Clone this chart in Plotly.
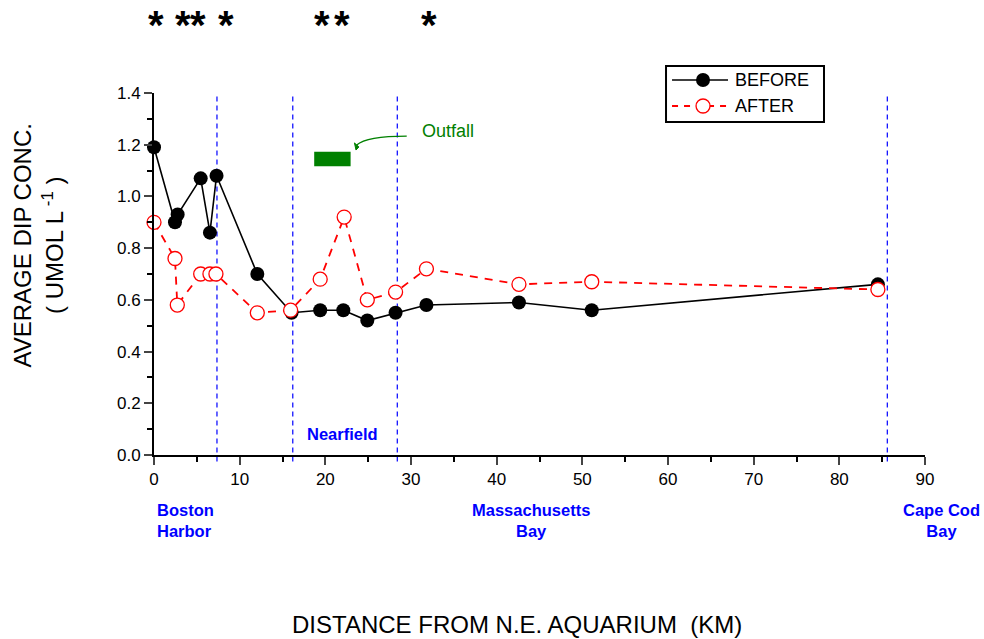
import plotly.graph_objects as go

# Station distances from the N.E. Aquarium (km) and mean DIP concentrations
before_km = [0.0, 2.45, 2.76, 5.45, 6.53, 7.3, 12.06, 16.06, 19.4, 22.1, 24.9, 28.2, 31.8, 42.6, 51.1, 84.5]
before_dip = [1.19, 0.90, 0.93, 1.07, 0.86, 1.08, 0.70, 0.55, 0.56, 0.56, 0.52, 0.55, 0.58, 0.59, 0.56, 0.66]

after_km = [0.0, 2.45, 2.72, 5.45, 6.53, 7.23, 12.06, 15.95, 19.4, 22.2, 24.9, 28.2, 31.8, 42.6, 51.1, 84.5]
after_dip = [0.90, 0.76, 0.58, 0.70, 0.70, 0.70, 0.55, 0.56, 0.68, 0.92, 0.60, 0.63, 0.72, 0.66, 0.67, 0.64]

# Region boundaries (km)
boundaries_km = [7.35, 16.2, 28.4, 85.6]

# Outfall location bar (km range, DIP range)
outfall_km = [18.7, 22.95]
outfall_dip = [1.117, 1.173]

# Significance markers (km)
star_km = [0.2, 3.4, 5.1, 8.4, 19.6, 21.9, 32.1]

x_ticks = [0, 10, 20, 30, 40, 50, 60, 70, 80, 90]
y_ticks = [0.0, 0.2, 0.4, 0.6, 0.8, 1.0, 1.2, 1.4]

FONT = "Liberation Sans, Arial, sans-serif"
BLUE = "#0000ff"
GREEN = "#008000"
RED = "#ff0000"

fig = go.Figure()

fig.add_trace(go.Scatter(
    x=before_km, y=before_dip, name="BEFORE", mode="lines+markers",
    line=dict(color="black", width=1.6),
    marker=dict(symbol="circle", size=14, color="black", line=dict(width=0)),
    cliponaxis=False, showlegend=False,
))
fig.add_trace(go.Scatter(
    x=after_km, y=after_dip, name="AFTER", mode="lines+markers",
    line=dict(color=RED, width=1.8, dash="8px,7px"),
    marker=dict(symbol="circle", size=14, color="white", line=dict(color=RED, width=1.3)),
    cliponaxis=False, showlegend=False,
))

shapes = []
for b in boundaries_km:
    shapes.append(dict(type="line", xref="x", yref="paper", x0=b, x1=b, y0=-0.018, y1=0.99,
                       line=dict(color=BLUE, width=1.2, dash="5px,4px"), layer="below"))

# Outfall bar with a curved pointer from its label
shapes.append(dict(type="rect", xref="x", yref="y", x0=outfall_km[0], x1=outfall_km[1],
                   y0=outfall_dip[0], y1=outfall_dip[1], fillcolor=GREEN, line=dict(width=0)))
shapes.append(dict(type="path", xref="x", yref="y",
                   path="M 29.5 1.2336 Q 24.8 1.2336 23.66 1.199",
                   line=dict(color=GREEN, width=1.2)))
shapes.append(dict(type="path", xref="x", yref="y",
                   path="M 23.58 1.1794 L 23.92 1.1914 L 23.40 1.2069 Z",
                   fillcolor=GREEN, line=dict(color=GREEN, width=1)))

# Legend box drawn in paper space
leg_x0, leg_x1, leg_y0, leg_y1 = 0.6641, 0.869, 0.9199, 1.0746
row_y = [1.0359, 0.9641]
sample_x0, sample_x1, marker_x, text_x = 0.6719, 0.7445, 0.7121, 0.751
shapes.append(dict(type="rect", xref="paper", yref="paper", x0=leg_x0, x1=leg_x1,
                   y0=leg_y0, y1=leg_y1, fillcolor="white", line=dict(color="black", width=2)))
shapes.append(dict(type="line", xref="paper", yref="paper", x0=sample_x0, x1=sample_x1,
                   y0=row_y[0], y1=row_y[0], line=dict(color="black", width=1.6)))
shapes.append(dict(type="circle", xref="paper", yref="paper", xsizemode="pixel", ysizemode="pixel",
                   xanchor=marker_x, yanchor=row_y[0], x0=-7, x1=7, y0=-7, y1=7,
                   fillcolor="black", line=dict(width=0)))
shapes.append(dict(type="line", xref="paper", yref="paper", x0=sample_x0, x1=sample_x1,
                   y0=row_y[1], y1=row_y[1], line=dict(color=RED, width=1.8, dash="6px,6px")))
shapes.append(dict(type="circle", xref="paper", yref="paper", xsizemode="pixel", ysizemode="pixel",
                   xanchor=marker_x, yanchor=row_y[1], x0=-7, x1=7, y0=-7, y1=7,
                   fillcolor="white", line=dict(color=RED, width=1.3)))

annotations = [
    dict(x=text_x, y=row_y[0], xref="paper", yref="paper", text="BEFORE", showarrow=False,
         xanchor="left", yanchor="middle", font=dict(family=FONT, size=18, color="black")),
    dict(x=text_x, y=row_y[1], xref="paper", yref="paper", text="AFTER", showarrow=False,
         xanchor="left", yanchor="middle", font=dict(family=FONT, size=18, color="black")),
    dict(x=34.3, y=1.253, xref="x", yref="y", text="Outfall", showarrow=False,
         xanchor="center", yanchor="middle", font=dict(family=FONT, size=18, color=GREEN)),
    dict(x=22.06, y=0.081, xref="x", yref="y", text="<b>Nearfield</b>", showarrow=False,
         xanchor="center", yanchor="middle", font=dict(family=FONT, size=16.5, color=BLUE)),
    dict(x=0.0013, y=-0.182, xref="paper", yref="paper", text="<b>Boston<br>Harbor</b>",
         showarrow=False, xanchor="left", yanchor="middle", align="left",
         font=dict(family=FONT, size=16.5, color=BLUE)),
    dict(x=0.489, y=-0.182, xref="paper", yref="paper", text="<b>Massachusetts<br>Bay</b>",
         showarrow=False, xanchor="center", yanchor="middle",
         font=dict(family=FONT, size=16.5, color=BLUE)),
    dict(x=1.021, y=-0.182, xref="paper", yref="paper", text="<b>Cape Cod<br>Bay</b>",
         showarrow=False, xanchor="center", yanchor="middle",
         font=dict(family=FONT, size=16.5, color=BLUE)),
    dict(x=0.4708, y=-0.4696, xref="paper", yref="paper",
         text="DISTANCE FROM N.E. AQUARIUM  (KM)", showarrow=False,
         xanchor="center", yanchor="middle", font=dict(family=FONT, size=24, color="black")),
    dict(x=-0.1498, y=0.58, xref="paper", yref="paper", textangle=-90,
         text="AVERAGE DIP CONC.<br>( UMOL L<sup> -1</sup> )", showarrow=False,
         xanchor="center", yanchor="middle", font=dict(family=FONT, size=24, color="black")),
]
for s in star_km:
    annotations.append(dict(x=s, y=1.253, xref="x", yref="paper", text="<b>*</b>",
                            showarrow=False, xanchor="center", yanchor="top",
                            font=dict(family=FONT, size=40, color="black")))

fig.update_layout(
    width=984, height=639,
    margin=dict(l=154, r=59, t=93, b=184),
    paper_bgcolor="white", plot_bgcolor="white",
    font=dict(family=FONT, size=17, color="black"),
    showlegend=False,
    shapes=shapes,
    annotations=annotations,
    xaxis=dict(range=[0, 90], tickvals=x_ticks, ticks="outside", ticklen=8, tickwidth=1.5,
               showline=True, linecolor="black", linewidth=2, showgrid=False, zeroline=False,
               tickfont=dict(size=17),
               minor=dict(dtick=5, ticks="outside", ticklen=5, tickwidth=1.5, tickcolor="black")),
    yaxis=dict(range=[0, 1.4], tickvals=y_ticks, tickformat=".1f", ticks="outside", ticklen=8,
               tickwidth=1.5, showline=True, linecolor="black", linewidth=2, showgrid=False,
               zeroline=False, tickfont=dict(size=17),
               minor=dict(dtick=0.1, ticks="outside", ticklen=5, tickwidth=1.5, tickcolor="black")),
)

fig.write_html("out.html")
